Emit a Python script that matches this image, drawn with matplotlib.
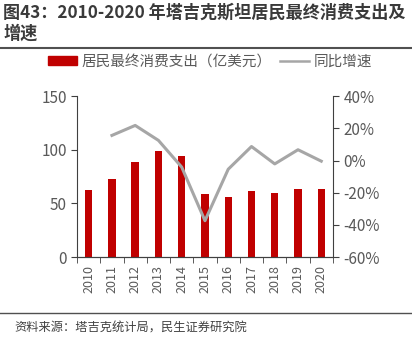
import matplotlib
matplotlib.use("Agg")
import matplotlib.pyplot as plt
from matplotlib.lines import Line2D
from matplotlib.patches import Patch
from matplotlib.ticker import FuncFormatter

plt.rcParams['font.family'] = ['Noto Sans CJK SC', 'DejaVu Sans']

years = ['2010', '2011', '2012', '2013', '2014', '2015', '2016', '2017', '2018', '2019', '2020']
spending = [62.1, 72.4, 88.2, 98.5, 93.8, 58.7, 55.6, 61.2, 59.9, 63.4, 63.4]
growth = [None, 15.6, 21.8, 12.5, -4.1, -37.4, -5.4, 8.7, -2.1, 6.7, -0.4]

title = '图43：2010-2020 年塔吉克斯坦居民最终消费支出及\n增速'
bar_label = '居民最终消费支出（亿美元）'
line_label = '同比增速'
source = '资料来源：塔吉克统计局，民生证券研究院'

red = '#C00000'
gray_line = '#A6A6A6'
tick_col = '#595959'

fig = plt.figure(figsize=(4.12, 3.47), dpi=100)
ax = fig.add_axes([0.187, 0.259, 0.621, 0.464])
x = list(range(len(years)))
ax.bar(x, spending, width=0.32, color=red, zorder=2)
ax.set_xlim(-0.5, len(years) - 0.5)
ax.set_ylim(0, 150)
ax.set_yticks([0, 50, 100, 150])

ax2 = ax.twinx()
gx = [i for i, g in zip(x, growth) if g is not None]
gy = [g for g in growth if g is not None]
ax2.plot(gx, gy, color=gray_line, lw=2.2, zorder=3)
ax2.set_ylim(-60, 40)
ax2.set_yticks([-60, -40, -20, 0, 20, 40])
ax2.yaxis.set_major_formatter(FuncFormatter(lambda v, p: f'{int(v)}%'))

ax.set_xticks(x)
ax.set_xticklabels(years, rotation=90, fontsize=9, color=tick_col)
ax.set_xticks([i - 0.5 for i in range(len(years) + 1)], minor=True)
ax.tick_params(axis='x', which='major', length=0, pad=6)
ax.tick_params(axis='x', which='minor', length=4, direction='out', color='#404040')
ax.tick_params(axis='y', labelsize=11, labelcolor=tick_col, length=4, color='#404040')
ax2.tick_params(axis='y', labelsize=11, labelcolor=tick_col, length=4, color='#404040')

for a in (ax, ax2):
    a.spines['top'].set_visible(False)
    for s in ('left', 'right', 'bottom'):
        a.spines[s].set_color('#404040')
ax2.spines['left'].set_visible(False)
ax.spines['right'].set_visible(False)

handles = [Patch(color=red), Line2D([0], [0], color=gray_line, lw=1.8)]
fig.legend(handles, [bar_label, line_label], loc='center', bbox_to_anchor=(0.51, 0.822),
           ncol=2, frameon=False, fontsize=10.5, labelcolor=tick_col, columnspacing=0.6,
           handlelength=2.0, handleheight=0.55, handletextpad=0.3)

fig.text(0.008, 0.99, title, fontsize=12.3, fontweight='bold', color='#3a3a3a',
         va='top', ha='left', linespacing=1.2)
fig.add_artist(Line2D([0.0, 1.0], [0.862, 0.862], color='#505050', lw=1.5))
fig.add_artist(Line2D([0.0, 1.0], [0.098, 0.098], color='#505050', lw=1))
fig.text(0.035, 0.055, source, fontsize=8.8, color='#404040', va='center', ha='left')

fig.savefig('out.png', dpi=100)
